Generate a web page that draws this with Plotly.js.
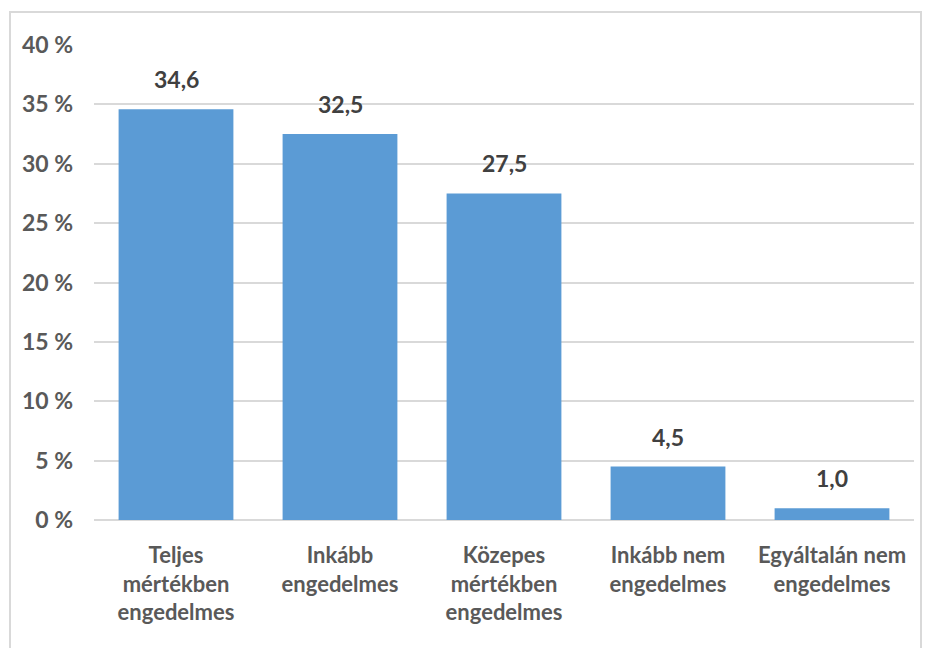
<!DOCTYPE html>
<html>
<head>
<meta charset="utf-8">
<script src="https://cdn.plot.ly/plotly-3.0.1.min.js"></script>
<style>
body{margin:0;padding:0;background:#fff;}
#chart{position:absolute;left:0;top:0;width:929px;height:648px;}
#frame{position:absolute;left:9px;top:11px;width:909px;height:660px;border:2px solid #d9d9d9;pointer-events:none;}
</style>
</head>
<body>
<div id="chart"></div>
<div id="frame"></div>
<script>
const categories = ["Teljes<br>mértékben<br>engedelmes", "Inkább<br>engedelmes", "Közepes<br>mértékben<br>engedelmes", "Inkább nem<br>engedelmes", "Egyáltalán nem<br>engedelmes"];
const values = [34.6, 32.5, 27.5, 4.5, 1.0];
const yTicks = [0, 5, 10, 15, 20, 25, 30, 35, 40];
const yTickLabels = ["0 %", "5 %", "10 %", "15 %", "20 %", "25 %", "30 %", "35 %", "40 %"];

const labels = values.map(v => v.toFixed(1).replace('.', ','));
const font = "Lato, 'Open Sans', sans-serif";

const annotations = categories.map((c, i) => ({
  x: c, y: values[i], xref: 'x', yref: 'y',
  text: labels[i], showarrow: false,
  yanchor: 'bottom', yshift: 14,
  font: {family: font, size: 23, color: '#404040', weight: 'bold'}
}));

Plotly.newPlot('chart', [{
  type: 'bar',
  x: categories,
  y: values,
  marker: {color: '#5b9bd5'},
  hoverinfo: 'none'
}], {
  width: 929, height: 648,
  margin: {l: 94, r: 15, t: 45, b: 128},
  bargap: 0.30,
  paper_bgcolor: '#fff', plot_bgcolor: '#fff',
  showlegend: false,
  annotations: annotations,
  xaxis: {
    tickfont: {family: font, size: 22, color: '#595959', weight: 'bold'},
    showline: false, ticks: '', showgrid: false,
    ticklabelstandoff: 20
  },
  yaxis: {
    range: [0, 40],
    tickvals: yTicks, ticktext: yTickLabels,
    tickfont: {family: font, size: 23, color: '#595959', weight: 'bold'},
    showgrid: true, gridcolor: '#d9d9d9', gridwidth: 2,
    zeroline: true, zerolinecolor: '#d9d9d9', zerolinewidth: 2,
    showline: false, ticks: '', ticklabelstandoff: 20
  }
}, {displayModeBar: false, staticPlot: true});
</script>
</body>
</html>
